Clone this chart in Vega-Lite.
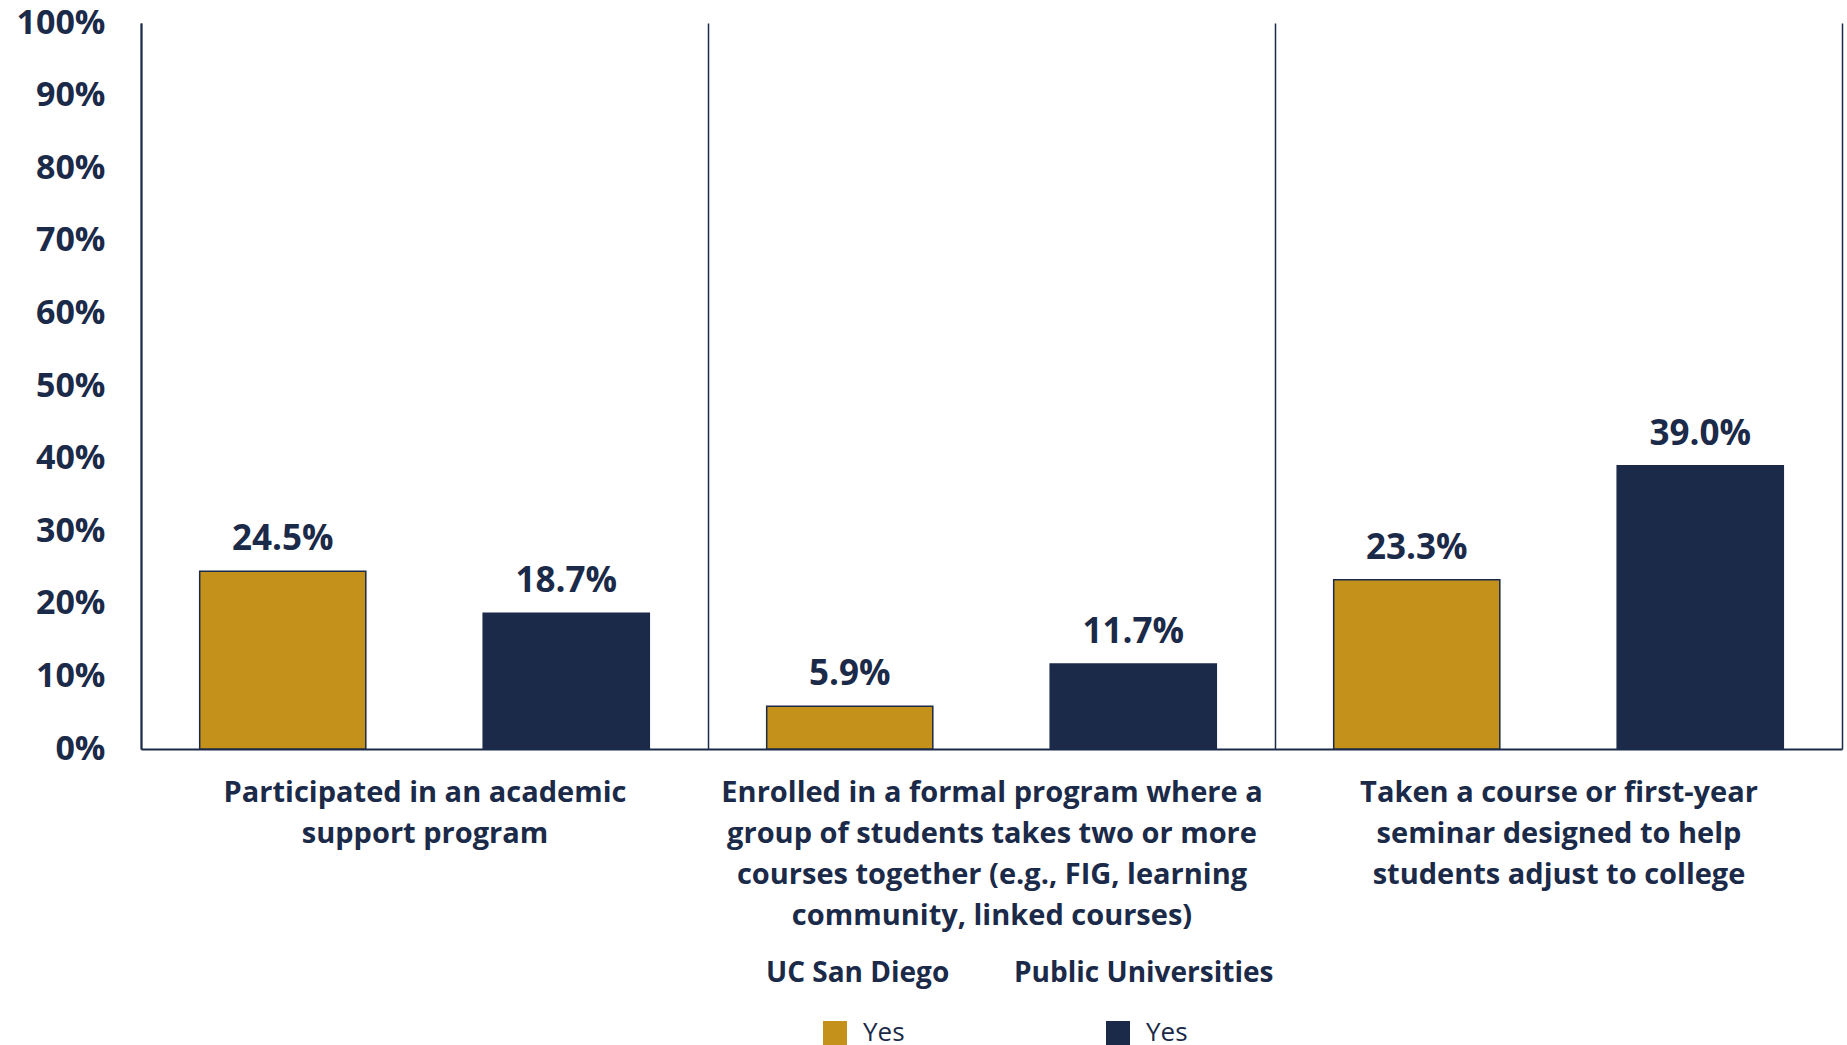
{
  "$schema": "https://vega.github.io/schema/vega-lite/v6.json",
  "width": 1701,
  "height": 726,
  "autosize": {"type": "none"},
  "padding": {"left": 141, "top": 23, "right": 5, "bottom": 296},
  "background": "white",
  "config": {"view": {"stroke": null}, "font": "Open Sans"},
  "data": {
    "values": [
      {"category": "Participated in an academic|support program", "group": "UC San Diego", "value": 24.5},
      {"category": "Participated in an academic|support program", "group": "Public Universities", "value": 18.7},
      {"category": "Enrolled in a formal program where a|group of students takes two or more|courses together (e.g., FIG, learning|community, linked courses)", "group": "UC San Diego", "value": 5.9},
      {"category": "Enrolled in a formal program where a|group of students takes two or more|courses together (e.g., FIG, learning|community, linked courses)", "group": "Public Universities", "value": 11.7},
      {"category": "Taken a course or first-year|seminar designed to help|students adjust to college", "group": "UC San Diego", "value": 23.3},
      {"category": "Taken a course or first-year|seminar designed to help|students adjust to college", "group": "Public Universities", "value": 39.0}
    ]
  },
  "encoding": {
    "x": {
      "field": "category",
      "type": "nominal",
      "sort": null,
      "scale": {"paddingInner": 0, "paddingOuter": 0},
      "axis": {
        "title": null,
        "labelAngle": 0,
        "ticks": false,
        "domainColor": "#1B2A48",
        "domainWidth": 2,
        "grid": true,
        "gridColor": "#1B2A48",
        "gridWidth": 1.5,
        "gridOpacity": 1,
        "tickBand": "extent",
        "labelExpr": "split(datum.label, '|')",
        "labelLimit": 0,
        "labelBaseline": "top",
        "labelAlign": "center",
        "labelFont": "Open Sans",
        "labelFontWeight": "bold",
        "labelColor": "#1B2A48",
        "labelFontSize": 29,
        "labelPadding": 29,
        "labelLineHeight": 41
      }
    },
    "xOffset": {
      "field": "group",
      "type": "nominal",
      "sort": ["UC San Diego", "Public Universities"],
      "scale": {"paddingInner": 0.414, "paddingOuter": 0.207}
    },
    "y": {
      "field": "value",
      "type": "quantitative",
      "scale": {"domain": [0, 100], "nice": false},
      "axis": {
        "title": null,
        "values": [0, 10, 20, 30, 40, 50, 60, 70, 80, 90, 100],
        "labelExpr": "datum.value + '%'",
        "domain": true,
        "domainColor": "#1B2A48",
        "domainWidth": 2,
        "ticks": false,
        "grid": false,
        "labelOverlap": false,
        "labelFont": "Open Sans",
        "labelFontSize": 34,
        "labelFontWeight": "bold",
        "labelColor": "#1B2A48",
        "labelPadding": 36
      }
    }
  },
  "layer": [
    {
      "mark": {"type": "bar", "strokeWidth": 1.5},
      "encoding": {
        "fill": {
          "field": "group",
          "type": "nominal",
          "scale": {"domain": ["UC San Diego", "Public Universities"], "range": ["#C4921A", "#1B2A48"]},
          "legend": {
            "values": ["UC San Diego"],
            "title": "UC San Diego",
            "orient": "none",
            "legendX": 625,
            "legendY": 937,
            "labelExpr": "'Yes'",
            "symbolType": "square",
            "symbolSize": 576,
            "symbolStrokeWidth": 0,
            "symbolFillColor": "#C4921A",
            "titleFont": "Open Sans",
            "titleFontSize": 28,
            "titleFontWeight": "bold",
            "titleColor": "#1B2A48",
            "titleLimit": 500,
            "titlePadding": 32,
            "labelFont": "Open Sans",
            "labelFontSize": 26,
            "labelColor": "#1B2A48",
            "labelOffset": 15,
            "encode": {
              "title": {"update": {"dx": {"value": -56}}},
              "symbols": {"update": {"fill": {"value": "#C4921A"}, "strokeWidth": {"value": 0}, "opacity": {"value": 1}}}
            }
          }
        },
        "stroke": {
          "field": "group",
          "type": "nominal",
          "scale": {"domain": ["Public Universities", "UC San Diego"], "range": ["#1B2A48", "#1B2A48"]},
          "legend": {
            "values": ["Public Universities"],
            "title": "Public Universities",
            "orient": "none",
            "legendX": 873,
            "legendY": 937,
            "labelExpr": "'Yes'",
            "symbolType": "square",
            "symbolSize": 576,
            "symbolStrokeWidth": 0,
            "symbolFillColor": "#1B2A48",
            "titleFont": "Open Sans",
            "titleFontSize": 28,
            "titleFontWeight": "bold",
            "titleColor": "#1B2A48",
            "titleLimit": 500,
            "titlePadding": 32,
            "labelFont": "Open Sans",
            "labelFontSize": 26,
            "labelColor": "#1B2A48",
            "labelOffset": 15,
            "encode": {
              "title": {"update": {"dx": {"value": -91}}},
              "symbols": {"update": {"fill": {"value": "#1B2A48"}, "stroke": {"value": "#1B2A48"}, "strokeWidth": {"value": 0}, "opacity": {"value": 1}}}
            }
          }
        }
      }
    },
    {
      "transform": [{"calculate": "format(datum.value, '.1f') + '%'", "as": "label"}],
      "mark": {
        "type": "text",
        "baseline": "alphabetic",
        "dy": -21,
        "font": "Open Sans",
        "fontSize": 35,
        "fontWeight": "bold",
        "color": "#1B2A48"
      },
      "encoding": {"text": {"field": "label", "type": "nominal"}}
    }
  ]
}
